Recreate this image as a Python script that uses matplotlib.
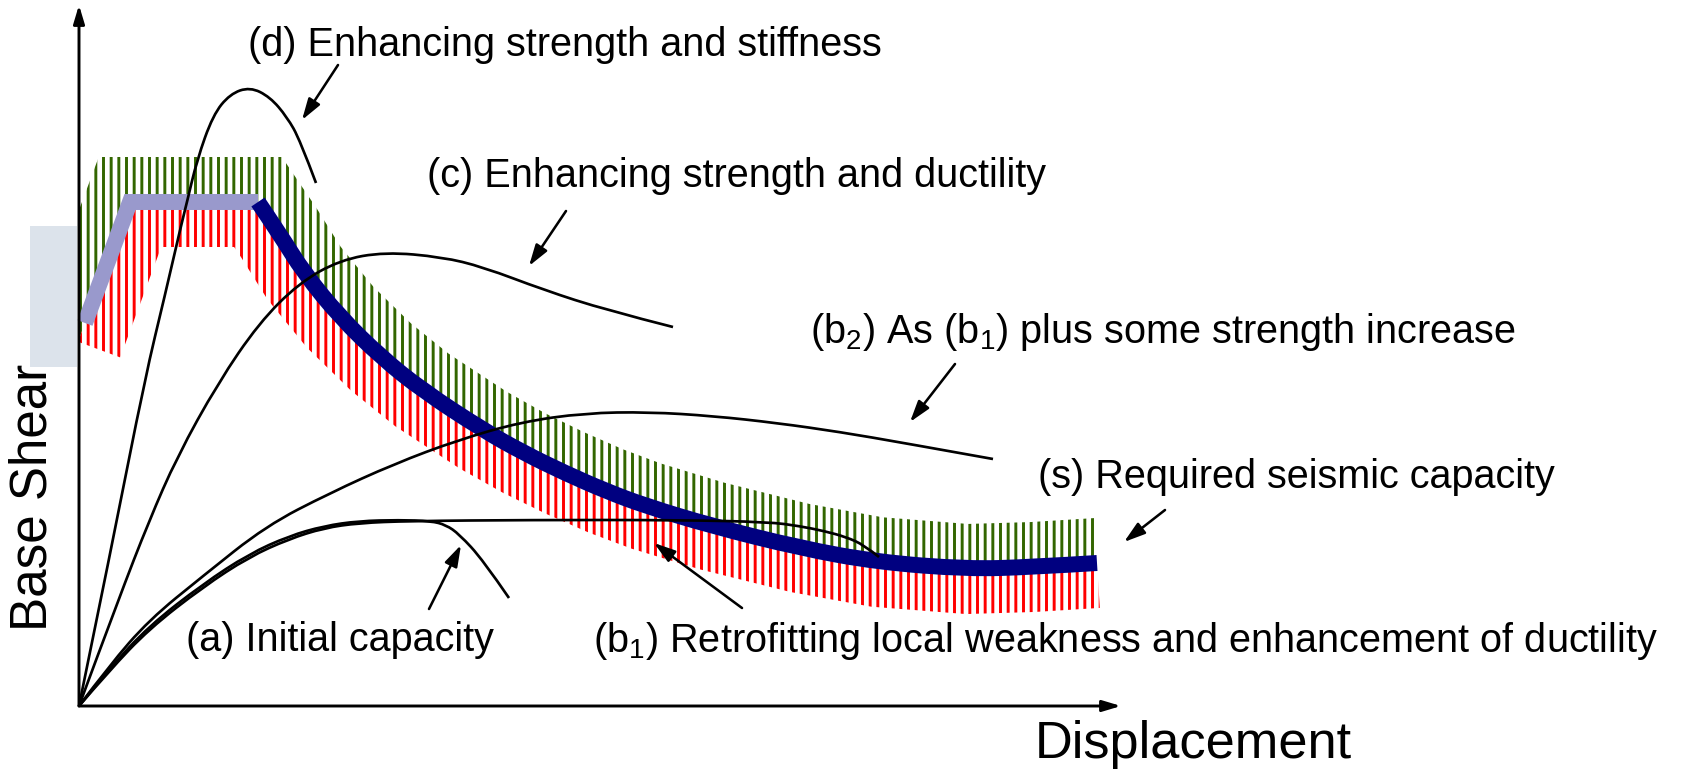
"""Capacity curves vs required seismic capacity (retrofit strategies sketch)."""

import numpy as np
import matplotlib
matplotlib.use("Agg")
import matplotlib.pyplot as plt
from matplotlib.patches import Rectangle, Polygon, PathPatch
from matplotlib.path import Path

plt.rcParams.update({
    "font.family": "Liberation Sans",
    "mathtext.fontset": "custom",
    "mathtext.rm": "Liberation Sans",
    "mathtext.it": "Liberation Sans",
    "hatch.linewidth": 2.3,
})

DPI = 92
W, H = 1683, 774
X0, Y0 = 79, 706          # pixel position of the origin

# capacity curves: displacement / base shear (arbitrary units)
d_disp = [0, 33, 66, 86, 101, 108, 118, 134, 151, 171, 191, 208, 221, 237]
d_shear = [0, 161, 328, 411, 476, 504, 546, 591, 612, 619, 609, 589, 566, 523]

c_disp = [0, 40, 70, 98, 139, 180, 220, 261, 306, 363, 404, 465, 527, 594]
c_shear = [0, 108, 185, 249, 323, 383, 423, 446, 454, 449, 439, 416, 396, 379]

b2_disp = [0, 30, 70, 124, 187, 251, 315, 379, 442, 506, 570, 634, 698, 761, 825, 914]
b2_shear = [0, 40, 86, 130, 180, 213, 242, 266, 284, 293, 294, 290, 283, 274, 263, 247]

a_disp = [0, 30, 70, 124, 170, 210, 245, 280, 320, 352, 367, 380, 404, 430]
a_shear = [0, 37, 80, 122, 152, 170, 180, 185, 186, 185, 181, 172, 146, 108]

b1_disp = [0, 30, 70, 124, 170, 210, 245, 280, 330, 450, 600, 690, 720, 745, 767, 785, 800]
b1_shear = [0, 35, 77, 119, 149, 167, 178, 183, 185, 186, 186, 184, 180, 175, 169, 161, 149]

# required seismic capacity (demand) line
s_disp = [6, 51, 179, 200, 225, 261, 302, 343, 404, 445, 486, 527, 567, 633, 721, 798, 888, 954, 1018]
s_shear = [383, 504, 504, 473, 433, 389, 349, 316, 276, 253, 233, 215, 200, 180, 158, 144, 137, 139, 143]

labels = [
    ("(d) Enhancing strength and stiffness", 169, 650),
    ("(c) Enhancing strength and ductility", 348, 519),
    ("(b$_2$) As (b$_1$) plus some strength increase", 731, 363),
    ("(s) Required seismic capacity", 959, 218),
    ("(a) Initial capacity", 107, 55),
    ("(b$_1$) Retrofitting local weakness and enhancement of ductility", 514, 54),
]

# arrows: (tail, head)
pointers = [
    ((259, 641), (223, 586)),
    ((487, 495), (450, 440)),
    ((876, 342), (831, 284)),
    ((1086, 196), (1045, 164)),
    ((350, 97), (382, 161)),
    ((663, 98), (575, 163)),
]


def offset_line(x, y, dist):
    x = np.asarray(x, float)
    y = np.asarray(y, float)
    dx, dy = np.diff(x), np.diff(y)
    ln = np.hypot(dx, dy)
    nx, ny = -dy / ln, dx / ln
    ox, oy = x.copy(), y.copy()
    ox[0] += dist * nx[0]
    oy[0] += dist * ny[0]
    ox[-1] += dist * nx[-1]
    oy[-1] += dist * ny[-1]
    k = dist / (1 + nx[:-1] * nx[1:] + ny[:-1] * ny[1:])
    ox[1:-1] += k * (nx[:-1] + nx[1:])
    oy[1:-1] += k * (ny[:-1] + ny[1:])
    return ox, oy


def smooth_curve(ax, xs, ys, **kw):
    # quadratic bezier through segment midpoints, points act as controls
    pts = np.column_stack([xs, ys]).astype(float)
    verts = [pts[0]]
    codes = [Path.MOVETO]
    n = len(pts)
    for i in range(1, n - 1):
        end = pts[i + 1] if i == n - 2 else (pts[i] + pts[i + 1]) / 2
        verts += [pts[i], end]
        codes += [Path.CURVE3, Path.CURVE3]
    patch = PathPatch(Path(verts, codes), facecolor="none", **kw)
    ax.add_patch(patch)
    return patch


fig = plt.figure(figsize=(W / DPI, H / DPI), dpi=DPI)
ax = fig.add_axes([0, 0, 1, 1])
ax.set_xlim(-X0, W - X0)
ax.set_ylim(Y0 - H, Y0)
ax.axis("off")

# shaded box behind the y label
ax.add_patch(Rectangle((-49, 339), 47, 141, facecolor="#dce3eb",
                       edgecolor="none", zorder=0))

# hatched band around the demand line
sx = np.asarray(s_disp, float)
sy = np.asarray(s_shear, float)
ux, uy = sx[1] - sx[0], sy[1] - sy[0]
ul = np.hypot(ux, uy)
bx = np.r_[sx[0] - 20 * ux / ul, sx]
by = np.r_[sy[0] - 20 * uy / ul, sy]
clip = Rectangle((0, Y0 - H), W, H, transform=ax.transData)
for dist, col in [(45, "#336600"), (-45, "#ff0000")]:
    ox, oy = offset_line(bx, by, dist)
    verts = np.column_stack([np.r_[bx, ox[::-1]], np.r_[by, oy[::-1]]])
    band = Polygon(verts, closed=True, facecolor="none", edgecolor=col,
                   linewidth=0, hatch="||", zorder=1)
    ax.add_patch(band)
    band.set_clip_path(clip)

# capacity curves
for xs, ys in [(d_disp, d_shear), (c_disp, c_shear), (b2_disp, b2_shear),
               (a_disp, a_shear), (b1_disp, b1_shear)]:
    smooth_curve(ax, xs, ys, edgecolor="black", lw=2.1, zorder=3)

ax.plot(s_disp[:3], s_shear[:3], color="#9999cc", lw=12.5,
        solid_capstyle="butt", solid_joinstyle="miter", zorder=2)
smooth_curve(ax, s_disp[2:], s_shear[2:], edgecolor="#000080", lw=12.5,
             capstyle="butt", zorder=2.5)

# axes with arrow heads
axis_style = dict(arrowstyle="-|>,head_length=0.6,head_width=0.18",
                  color="black", lw=2.3, mutation_scale=20,
                  shrinkA=0, shrinkB=0)
ax.annotate("", xy=(0, 701), xytext=(0, 0), arrowprops=axis_style, zorder=4)
ax.annotate("", xy=(1042, 0), xytext=(0, 0), arrowprops=axis_style, zorder=4)

ptr_style = dict(arrowstyle="-|>,head_length=0.7,head_width=0.22",
                 color="black", lw=2.0, mutation_scale=20,
                 shrinkA=0, shrinkB=0)
for tail, head in pointers:
    ax.annotate("", xy=head, xytext=tail, arrowprops=ptr_style, zorder=4)

for txt, x, y in labels:
    ax.text(x, y, txt, fontsize=31, ha="left", va="baseline", zorder=5)

ax.text(956, -52, "Displacement", fontsize=41, ha="left", va="baseline")
ax.text(-46, 209, "Base Shear", fontsize=40, rotation=90,
        ha="center", va="center")

fig.savefig("out.png", dpi=DPI)
